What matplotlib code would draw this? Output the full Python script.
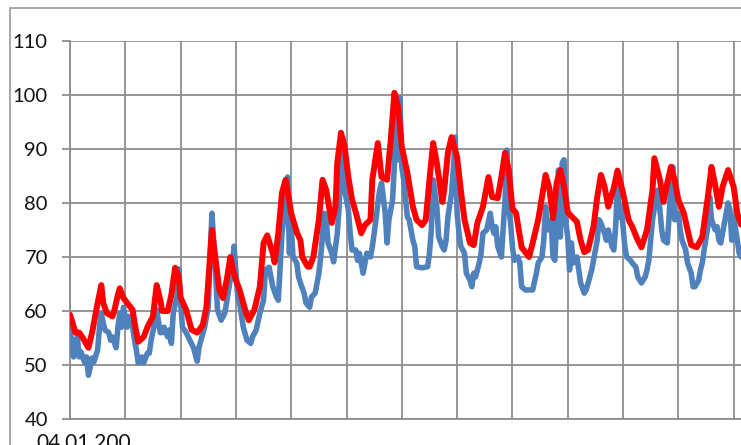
import matplotlib
matplotlib.use("Agg")
import matplotlib.pyplot as plt
from matplotlib.patches import Rectangle

plt.rcParams['font.family'] = ['Lato', 'DejaVu Sans']

# ==============================================================
# data (day index from 04.01, values)

red_days = [0, 3, 5, 7, 10, 12, 15, 17, 18, 20, 23, 24, 26, 27, 29, 31, 34, 35, 37, 40,
            42, 45, 47, 49, 50, 53, 55, 57, 59, 60, 63, 66, 69, 72, 74, 77, 79, 81, 83, 85,
            87, 88, 90, 92, 95, 97, 100, 103, 105, 107, 110, 111, 113, 115, 117, 118, 120, 123, 125, 126,
            129, 130, 132, 135, 137, 139, 142, 144, 145, 147, 149, 151, 153, 155, 158, 160, 163, 164, 167, 169,
            172, 174, 176, 178, 180, 183, 186, 188, 191, 193, 195, 197, 199, 202, 203, 205, 207, 210, 212, 214,
            217, 219, 221, 224, 227, 229, 232, 234, 236, 238, 240, 242, 245, 247, 249, 251, 254, 256, 258, 260,
            262, 264, 266, 268, 270, 273, 275, 277, 279, 281, 284, 286, 288, 290, 292, 295, 297, 300, 303, 305,
            308, 310, 313, 316, 317, 320, 322, 324, 326, 328, 330, 333, 335, 337, 340, 343, 346, 348, 350, 352,
            354, 357, 360, 362, 364]
red_vals = [59.3, 56, 56, 55, 53.2, 56, 61.5, 64.8, 61.5, 59.6, 59, 60, 63, 64.2, 62.4, 61.5, 60.2, 57.8, 54.3, 55.2,
            57, 59, 64.8, 62, 60, 60, 63, 68, 66.3, 62.5, 60.2, 56.5, 56, 57.4, 60.7, 75, 69.4, 63.9, 62.4, 65.7,
            70, 68.2, 65.7, 63.9, 60.2, 58.3, 60.2, 64.5, 72.6, 74, 70.7, 69, 74.4, 81.9, 84.3, 82.4, 78.1, 74.6, 73.1, 70,
            68.2, 68.2, 70, 76.9, 84.3, 82.4, 76.3, 79.3, 87.4, 93, 90.4, 84.8, 80.6, 78.3, 74.4, 75.9, 76.9, 84.3, 91.1, 84.8,
            84.3, 91.7, 100.4, 97.8, 90.4, 85.6, 79.3, 76.9, 75.9, 76.9, 84.3, 91.1, 87.4, 80.2, 82.4, 89.3, 92.2, 88.5, 82.4, 76.9,
            72.6, 72.2, 76.3, 79.3, 84.8, 81.1, 80.9, 84.8, 89.3, 86.1, 79, 78.1, 71.8, 70.9, 70, 72.6, 76.9, 81.1, 85.2, 82.8,
            77.2, 83.7, 86.1, 83, 78.3, 77.2, 76.5, 73.1, 70.9, 71.3, 75.6, 81.1, 85.2, 83, 79.3, 82.8, 86, 81.9, 76.9, 75.6,
            73.1, 71.8, 75, 82.4, 88.3, 84.3, 80.2, 83.7, 86.7, 84.3, 80.6, 78.1, 75, 72.2, 71.8, 73.7, 81.1, 86.7, 83.3, 79.3,
            83, 86.1, 83, 78.1, 76]

blue_days = [0, 1, 2, 4, 5, 6, 8, 9, 10, 12, 13, 15, 16, 17, 18, 19, 21, 22, 23, 25,
             26, 27, 28, 29, 31, 32, 34, 35, 36, 37, 39, 40, 42, 43, 44, 46, 47, 49, 50, 51,
             53, 54, 55, 56, 58, 59, 60, 61, 63, 65, 67, 69, 70, 73, 75, 76, 77, 79, 80, 82,
             84, 86, 88, 89, 91, 92, 94, 96, 98, 99, 101, 103, 105, 106, 108, 110, 112, 113, 115, 117,
             118, 119, 120, 121, 123, 124, 125, 127, 128, 130, 131, 133, 135, 136, 138, 139, 140, 142, 143, 145,
             146, 147, 148, 149, 151, 152, 153, 155, 156, 157, 159, 161, 163, 164, 166, 167, 168, 169, 171, 172,
             173, 175, 176, 177, 178, 179, 180, 181, 183, 184, 186, 187, 188, 191, 194, 195, 196, 197, 199, 200,
             202, 203, 204, 205, 207, 208, 209, 210, 211, 212, 214, 215, 217, 218, 219, 220, 222, 223, 224, 226,
             228, 229, 230, 231, 232, 234, 236, 237, 238, 239, 240, 241, 243, 244, 245, 247, 249, 251, 253, 254,
             256, 257, 258, 259, 261, 262, 263, 264, 265, 266, 267, 268, 269, 270, 271, 272, 273, 275, 276, 277,
             279, 280, 282, 283, 284, 286, 287, 288, 290, 291, 292, 294, 295, 296, 297, 298, 299, 301, 302, 304,
             305, 307, 308, 310, 312, 313, 314, 315, 316, 318, 319, 320, 321, 322, 324, 325, 326, 327, 328, 330,
             331, 332, 334, 335, 337, 338, 339, 341, 342, 343, 344, 346, 347, 348, 350, 351, 352, 353, 355, 357,
             358, 359, 360, 362, 363, 364]
blue_vals = [57, 54, 51.5, 55.2, 51.5, 52.4, 50.4, 51.5, 48.1, 51.3, 50.6, 52.8, 57, 59.6, 57.8, 56.5, 56, 54.6, 55.2, 53.2,
             57, 59.6, 57, 60.7, 57, 59, 57, 54.6, 52.8, 50.4, 51.5, 50.4, 52.2, 52.2, 54.6, 57.8, 60.2, 56, 56, 57,
             55.2, 56.5, 54, 59.6, 62.6, 67.8, 61.5, 57, 56, 54.6, 53.2, 50.7, 53.3, 57, 60.7, 70, 78.1, 67, 60.2, 58.3,
             59.6, 63.9, 68.1, 72, 62.6, 61.5, 57, 54.6, 54, 55.2, 56.5, 59.6, 62, 67.6, 68.1, 64.5, 62.6, 62, 74.4, 80.6,
             84.8, 70.7, 75.6, 70, 68.9, 66.3, 65.2, 63.3, 61.5, 60.7, 62.6, 63.3, 67, 70, 78.1, 76.9, 72.6, 70.7, 69.1, 74.4,
             79.3, 88.5, 92, 82.4, 78.7, 74.4, 71.3, 71.3, 69.4, 70.7, 67, 70.7, 70, 71.9, 76.9, 80, 82.4, 83.7, 78.1, 72.6,
             76.9, 80.6, 87.4, 97.5, 88, 99.5, 86.7, 84.3, 77.4, 76.9, 73.1, 72, 68.2, 68, 68.2, 70.7, 75, 84.3, 79.3, 73.7,
             71.9, 71.3, 73.1, 77.4, 81.9, 86.7, 92.2, 78.1, 74.4, 72, 70.7, 67, 65.7, 64.5, 67, 66.3, 68.9, 70.7, 74.4, 75,
             78.1, 75.6, 74.4, 75.6, 72, 70, 80.6, 89.8, 79.3, 76.3, 71.9, 69.4, 70, 68.9, 64.5, 63.9, 63.9, 63.9, 67, 68.9,
             70, 73.1, 79.3, 75, 76.9, 70, 69.4, 76.3, 86.1, 73.7, 87.4, 88, 76.3, 73.7, 67.6, 72.6, 68.9, 70, 67.6, 65.2,
             63.3, 63.9, 66.3, 67.6, 69.4, 73.1, 76.9, 76.3, 74.4, 73.1, 75, 72, 71.3, 75.6, 83.7, 77.4, 79.3, 71.9, 70, 69.4,
             68.9, 68.1, 66.3, 65.2, 66.3, 67.6, 69.4, 73.1, 76.9, 81.1, 82.4, 78.7, 75, 73.1, 72.6, 77.4, 83.7, 86.7, 76.9, 78.1,
             75, 73.1, 71.3, 68.9, 67, 64.5, 64.5, 65.7, 67.6, 68.9, 71.3, 75.6, 81.1, 76.9, 75, 75.6, 73.1, 72.6, 76.3, 80,
             78.7, 73.1, 77.4, 73.1, 70.7, 70]

y_ticks = [40, 50, 60, 70, 80, 90, 100, 110]
first_label = "04.01.200"

# ==============================================================

grid_col = '#8e8e8e'

fig = plt.figure(figsize=(7.41, 4.45), dpi=100)
ax = fig.add_axes([70 / 741, 26 / 445, 671 / 741, 378 / 445])

ax.plot(blue_days, blue_vals, color='#4f81bd', lw=4.0,
        solid_joinstyle='round', solid_capstyle='round', zorder=3)
ax.plot(red_days, red_vals, color='#ff0000', lw=4.3,
        solid_joinstyle='round', solid_capstyle='round', zorder=4)

ax.set_xlim(0, 364)
ax.set_ylim(40, 110)
ax.set_yticks(y_ticks)
ax.set_xticks(range(0, 365, 30))
ax.set_xticklabels([])
ax.grid(True, color=grid_col, lw=1.3)
ax.set_axisbelow(True)

for side in ['top', 'right']:
    ax.spines[side].set_visible(False)
for side in ['left', 'bottom']:
    ax.spines[side].set_color(grid_col)
    ax.spines[side].set_linewidth(1.3)

ax.tick_params(axis='y', length=6, color=grid_col, width=1.3, pad=10,
               labelsize=14.5, labelcolor='#111111')
ax.tick_params(axis='x', length=0)

# first date label (cut off at the bottom in the original)
ax.annotate(first_label, xy=(0, 40), xycoords='data', xytext=(10, -10),
            textcoords='offset points', ha='center', va='top',
            fontsize=15, color='#111111', annotation_clip=False)

# outer chart frame
fig.patches.append(Rectangle((10 / 741, -0.1), 1.2, (437 / 445) + 0.1,
                             transform=fig.transFigure, fill=False,
                             edgecolor='#9a9a9a', lw=1.2))

fig.savefig('out.png', dpi=100)
